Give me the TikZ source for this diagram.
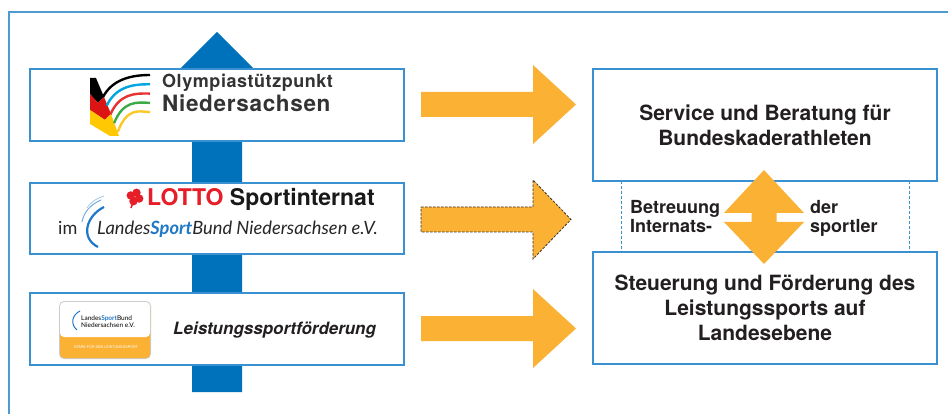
\documentclass[tikz,border=0pt]{standalone}
\usepackage{fontspec}
\setmainfont{TeX Gyre Heros}
\newfontfamily\ospfont[LetterSpace=3]{TeX Gyre Heros}
\newfontfamily\lsbfont{Lato}
\definecolor{boxblue}{RGB}{58,145,210}
\definecolor{frameblue}{RGB}{78,155,210}
\definecolor{arrowblue}{RGB}{0,114,187}
\definecolor{arroworange}{RGB}{250,177,52}
\definecolor{textdark}{RGB}{35,31,32}
\definecolor{lottored}{RGB}{230,30,40}
\definecolor{sportblue}{RGB}{30,120,200}
\definecolor{flagred}{RGB}{220,20,20}
\definecolor{flaggold}{RGB}{255,200,0}
\definecolor{arcblue}{RGB}{0,165,225}
\definecolor{arcred}{RGB}{232,50,50}
\definecolor{arcgreen}{RGB}{60,170,70}
\definecolor{arcyellow}{RGB}{250,200,40}
\begin{document}
\begin{tikzpicture}[x=1pt,y=-1pt,
	box/.style={draw=boxblue,line width=1.2pt,fill=white,inner sep=0pt},
	head/.style={font=\bfseries\fontsize{21}{25}\selectfont,text=textdark,align=center},
	small/.style={anchor=base west,inner sep=0pt,font=\bfseries\fontsize{18}{20}\selectfont,text=textdark}]
	\useasboundingbox (0,0) rectangle (948,414);
	\draw[frameblue,line width=1.2pt] (948,12)--(9,12)--(9,414);
	% blue arrow behind the left boxes
	\fill[arrowblue] (192,392)--(192,68)--(181,68)--(217,32)--(253,68)--(242,68)--(242,392)--cycle;
	\node[box,minimum width=374,minimum height=72] (osp) at (217,105) {};
	\node[box,minimum width=374,minimum height=71] (lotto) at (217,218.5) {};
	\node[box,minimum width=374,minimum height=72] (lsf) at (217,329) {};
	% Olympiastuetzpunkt logo
	\fill[black] (90,78)--(96,78)--(104,97)--(98,103)--(90,94)--cycle;
	\fill[flagred] (90,94)--(98,103)--(104,97)--(111,114)--(105,120)--(90,110)--cycle;
	\fill[flaggold] (90,110)--(105,120)--(111,114)--(119,136)--(110,136)--(90,124)--cycle;
	\foreach \c/\i in {black/0,arcblue/1,arcred/2,arcgreen/3,arcyellow/4}
	\draw[\c,line width=2.4] (103+3.7*\i,97+8.7*\i)..controls (112+3.7*\i,80+7*\i) and (130+2*\i,75+9*\i)..(150,75+9.3*\i);
	\node[anchor=base west,inner sep=0pt,font=\ospfont\bfseries\fontsize{18}{20}\selectfont,text=black!80] (ospa) at (162,88) {Olympiastützpunkt};
	\node[anchor=base west,inner sep=0pt,font=\ospfont\bfseries\fontsize{22.5}{24}\selectfont,text=black!80] (ospb) at (162,112) {Niedersachsen};
	% LOTTO Sportinternat logo
	\foreach \a in {20,110,200,290}
	\fill[lottored] (135,197) ++(\a:4.5) circle (4.2);
	\draw[lottored,line width=1.5] (135,197)--(131,208);
	\node[anchor=base west,inner sep=0pt,font=\bfseries\fontsize{23}{25}\selectfont,text=black!90] (lottoa) at (147,206) {{\color{lottored}LOTTO} Sportinternat};
	\draw[sportblue,line width=2.2] (104,207)..controls (86,216) and (80,238)..(98,247);
	\draw[sportblue!60,line width=1] (101,200)..controls (90,205) and (84,212)..(82,222);
	\draw[sportblue!40,line width=0.8] (104,196)..controls (95,199) and (90,203)..(87,208);
	\node[anchor=base west,inner sep=0pt,font=\lsbfont\fontsize{18}{20}\selectfont,text=black!85] (lottob) at (58,235) {im};
	\node[anchor=base west,inner sep=0pt,font=\lsbfont\itshape\fontsize{18.3}{20}\selectfont,text=black!85] (lottoc) at (97,235) {Landes{\bfseries\color{sportblue}Sport}Bund Niedersachsen e.V.};
	% Leistungssport badge
	\fill[black!20,rounded corners=5] (59,301) rectangle (151,359);
	\fill[arroworange,rounded corners=4] (60,302) rectangle (150,358);
	\fill[white,rounded corners=4] (60,302) rectangle (150,337);
	\draw[sportblue,line width=1] (80,311)..controls (72,315) and (70,324)..(77,330);
	\node[anchor=base west,inner sep=0pt,font=\lsbfont\fontsize{6.5}{7}\selectfont] (badgea) at (81,320) {Landes{\bfseries\color{sportblue}Sport}Bund};
	\node[anchor=base west,inner sep=0pt,font=\lsbfont\fontsize{6.5}{7}\selectfont] (badgeb) at (81,327) {Niedersachsen e.V.};
	\node[inner sep=0pt,font=\fontsize{3.7}{4}\selectfont,text=white] (badgec) at (106,347) {STARK FÜR DEN LEISTUNGSSPORT};
	\node[anchor=base west,inner sep=0pt,font=\bfseries\itshape\fontsize{17}{20}\selectfont,text=textdark] (lsftext) at (173,334) {Leistungssportförderung};
	% orange arrows to the right
	\foreach \y in {104.5,328.5}
	\fill[arroworange] (421,\y-12.5)--(533,\y-12.5)--(533,\y-39.5)--(576,\y)--(533,\y+39.5)--(533,\y+12.5)--(421,\y+12.5)--cycle;
	\filldraw[fill=arroworange,draw=black!80,line width=0.8pt,dash pattern=on 2.5pt off 1.5pt] (421,207)--(533,207)--(533,180)--(571,219.5)--(533,259)--(533,232)--(421,232)--cycle;
	\node[box,minimum width=344,minimum height=112,head] (serv) at (765,125) {Service und Beratung für\\Bundeskaderathleten};
	\node[box,minimum width=344,minimum height=112,head] (steu) at (765,308) {Steuerung und Förderung des\\Leistungssports auf\\Landesebene};
	\foreach \x in {621,909}
	\draw[draw=boxblue,line width=0.9pt,dash pattern=on 3pt off 2pt] (\x,181)--(\x,252);
	\fill[arroworange] (764,170)--(804,213)--(776.5,213)--(776.5,222)--(804,222)--(764,264)--(724,222)--(751.5,222)--(751.5,213)--(724,213)--cycle;
	\node[small] (betr) at (630,214) {Betreuung};
	\node[small] (intern) at (630,233) {Internats-};
	\node[small] (der) at (810,214) {der};
	\node[small] (sportl) at (810,233) {sportler};
\end{tikzpicture}
\end{document}
